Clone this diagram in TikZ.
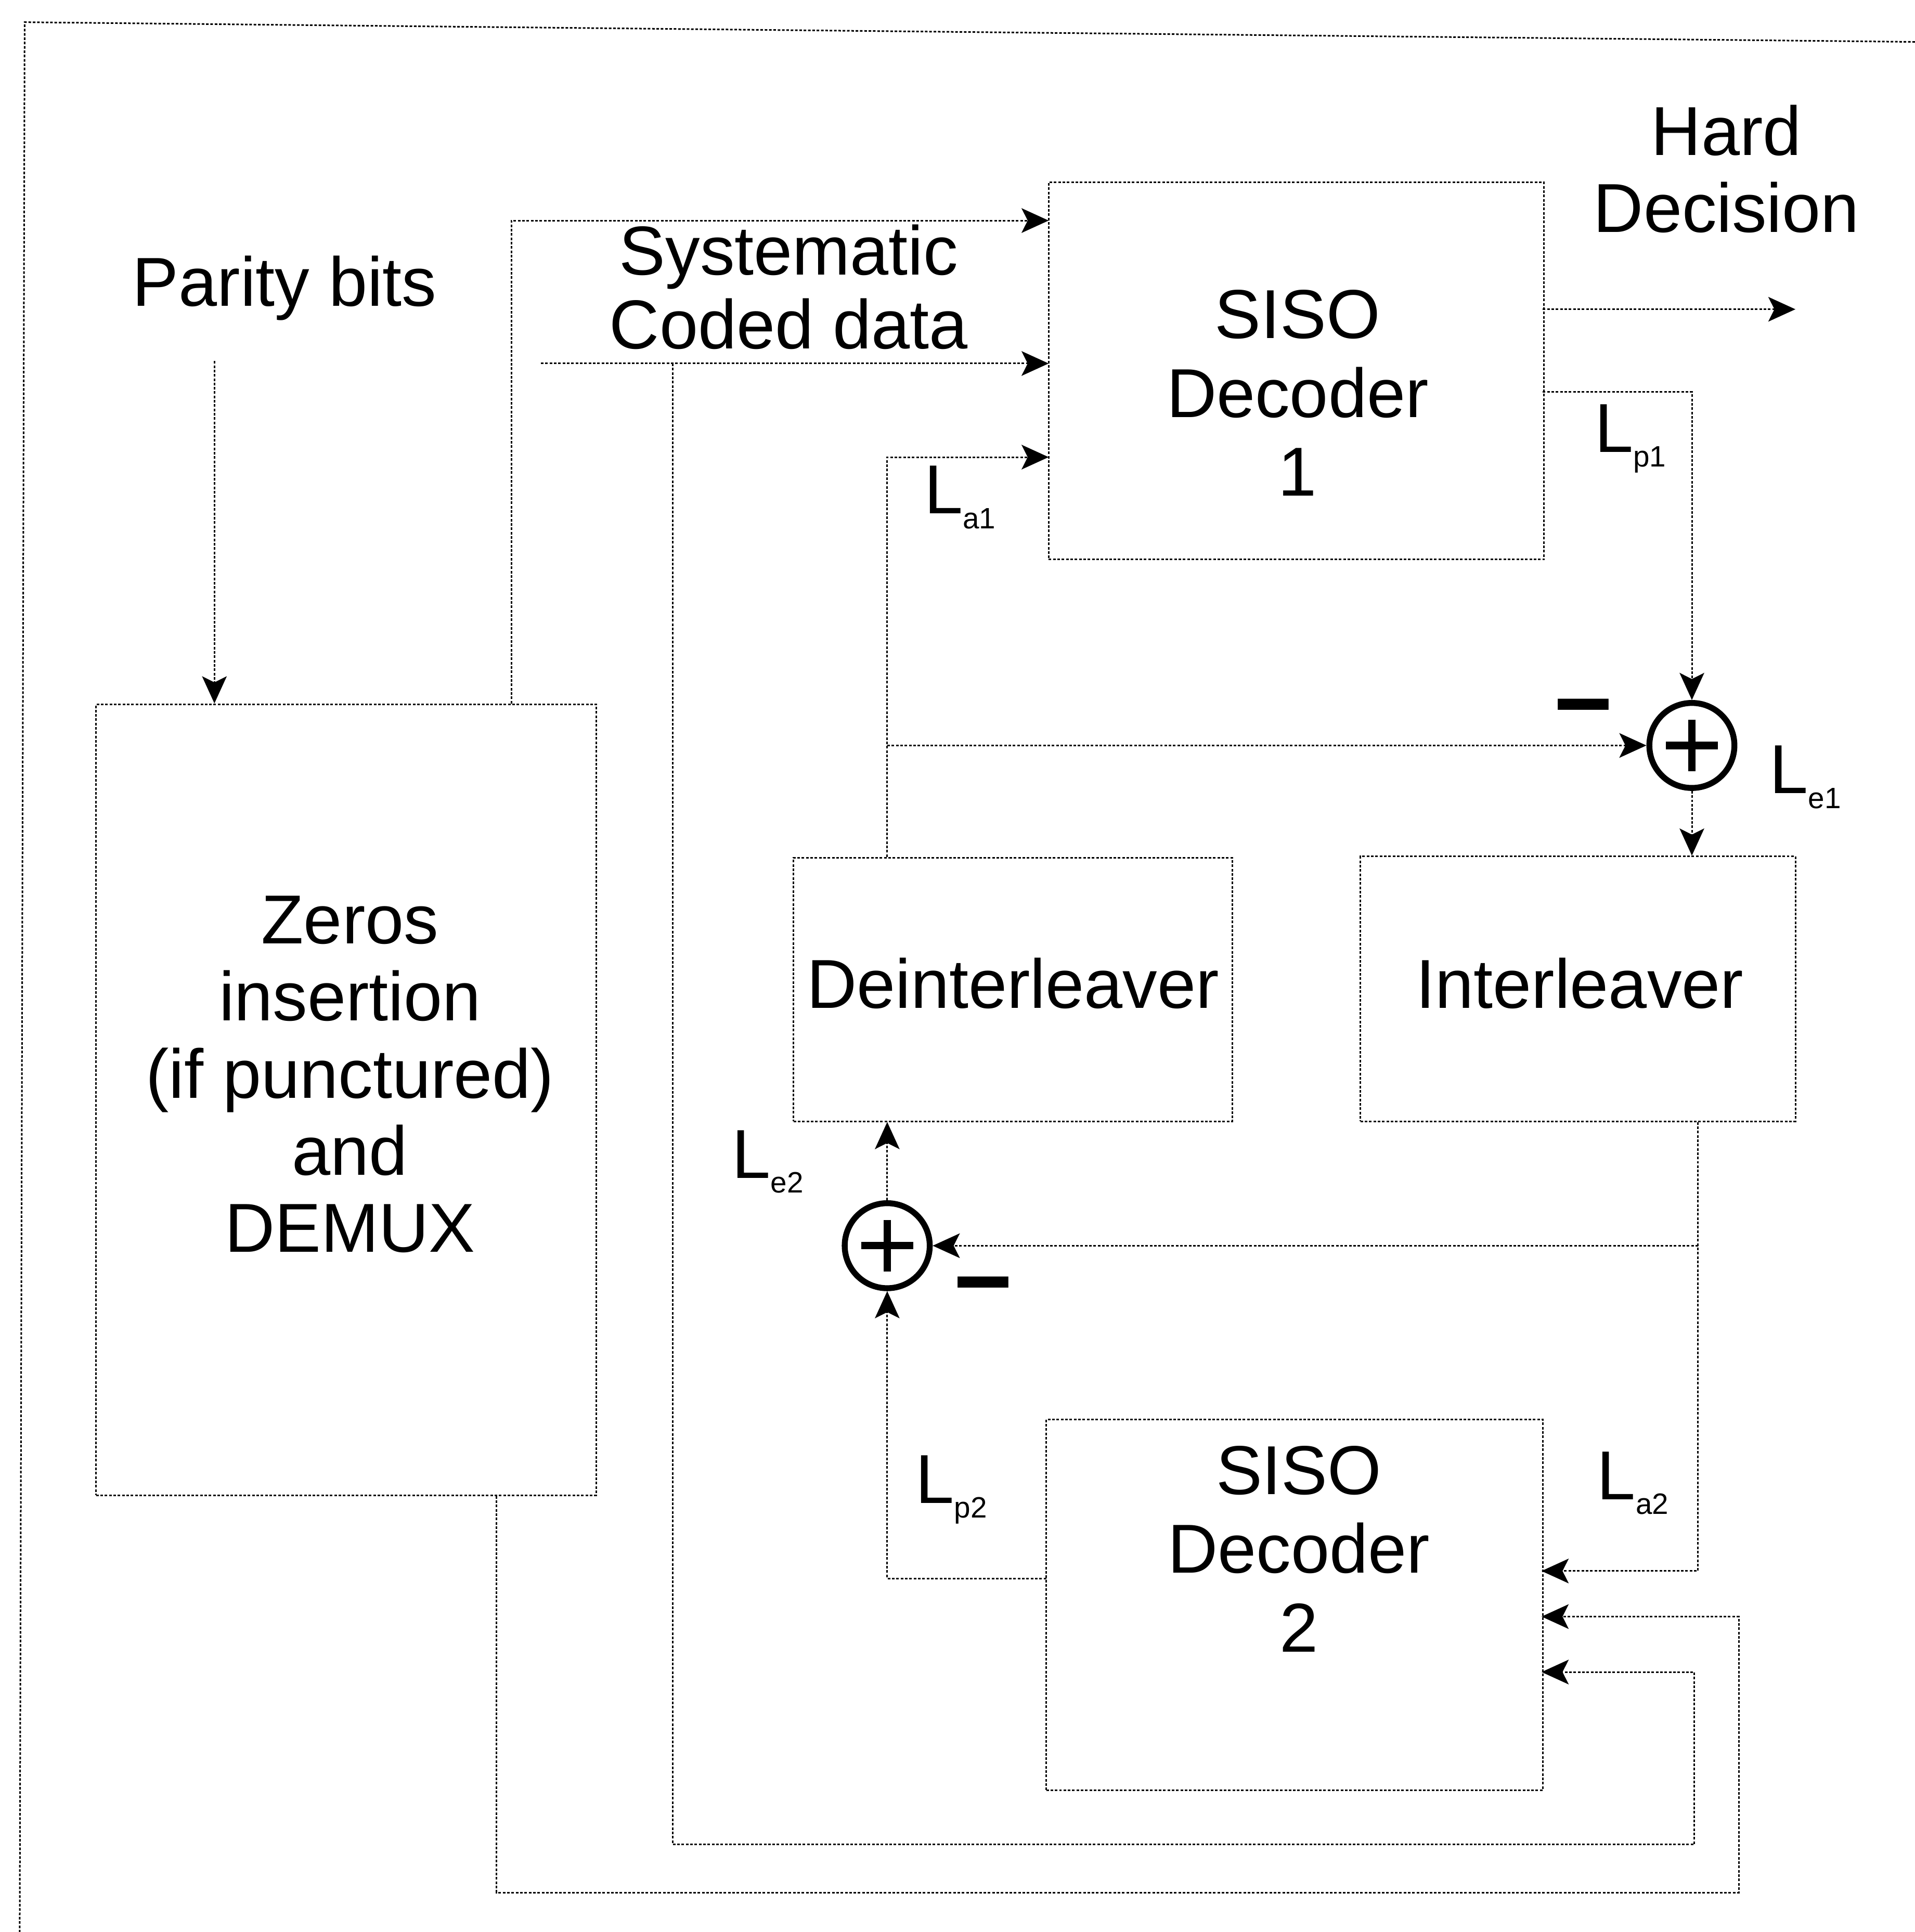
\documentclass[tikz,border=0pt]{standalone}
\usepackage{fontspec}
\setmainfont{Liberation Sans}
\usetikzlibrary{arrows.meta,calc}
\newcommand{\Lsub}[1]{L\raisebox{-6mm}{\fontsize{34}{36}\selectfont #1}}
\begin{document}
\begin{tikzpicture}[x=0.5mm,y=-0.5mm,
  conn/.style={line width=1.8pt, dash pattern=on 3pt off 2pt},
  box/.style={conn, draw, rectangle, inner sep=0pt},
  tip/.style={-{Stealth[length=11mm,width=10mm,inset=2.5mm]}},
  txt/.style={font=\fontsize{80}{90}\selectfont, align=center, inner sep=0pt},
  lab/.style={font=\fontsize{80}{90}\selectfont, inner sep=0pt, anchor=base west},
  sumnode/.style={circle, draw, line width=2.4mm, minimum size=34.5mm, inner sep=0pt},
  plusbar/.style={line width=3mm},
  minus/.style={font=\fontsize{117}{120}\selectfont\bfseries, inner sep=0pt}]
\useasboundingbox (0,0) rectangle (1554,1568);

% frame
\coordinate (fr1) at (1554,34);
\coordinate (fr2) at (20,18);
\coordinate (fr3) at (16,1568);
\draw[conn] (fr1) -- (fr2) -- (fr3);

% blocks
\node[box, minimum width=201mm, minimum height=153mm] (s1) at (1052,301) {};
\node[box, minimum width=203mm, minimum height=321mm] (z) at (281,892.5) {};
\node[box, minimum width=178mm, minimum height=107mm] (d) at (822,803) {};
\node[box, minimum width=176.5mm, minimum height=107.5mm] (i) at (1280.5,802.5) {};
\node[box, minimum width=201.5mm, minimum height=150.5mm] (s2) at (1050.5,1302.5) {};
\node[sumnode] (sum1) at (1373,605) {};
\node[sumnode] (sum2) at (720,1011) {};
\draw[plusbar] ($(sum1)+(-21,0)$) -- ($(sum1)+(21,0)$);
\draw[plusbar] ($(sum1)+(0,-21)$) -- ($(sum1)+(0,21)$);
\draw[plusbar] ($(sum2)+(-21,0)$) -- ($(sum2)+(21,0)$);
\draw[plusbar] ($(sum2)+(0,-21)$) -- ($(sum2)+(0,21)$);

% texts
\node[txt] (pbt) at (231,234) {Parity bits};
\node[txt, font=\fontsize{80}{85}\selectfont] (sct) at (640,233) {Systematic\\Coded data};
\node[txt, font=\fontsize{80}{91}\selectfont] (s1t) at (1053,319) {SISO\\Decoder\\1};
\node[txt, font=\fontsize{80}{89}\selectfont] (hdt) at (1401,137) {Hard\\Decision};
\node[txt, font=\fontsize{80}{89}\selectfont] (zt) at (284,872) {Zeros\\insertion\\(if punctured)\\and\\DEMUX};
\node[txt] (dt) at (822,798) {Deinterleaver};
\node[txt] (it) at (1282,798) {Interleaver};
\node[txt, font=\fontsize{80}{91}\selectfont] (s2t) at (1054,1257) {SISO\\Decoder\\2};

% labels
\node[lab] (la1) at (750,417) {\Lsub{a1}};
\node[lab] (lp1) at (1294,367) {\Lsub{p1}};
\node[lab] (le1) at (1436,644) {\Lsub{e1}};
\node[lab] (le2) at (594,956) {\Lsub{e2}};
\node[lab] (lp2) at (743,1220) {\Lsub{p2}};
\node[lab] (la2) at (1296,1217) {\Lsub{a2}};
\node[minus] (m1) at (1285,583) {−};
\node[minus] (m2) at (798,1052) {−};

% connector coordinates
\coordinate (pbtail) at (174,293);
\coordinate (zsx) at (415,0);
\coordinate (s1in1) at (851,179);
\coordinate (cdtail) at (439,295);
\coordinate (s1in2) at (851,295);
\coordinate (cdx) at (546,0);
\coordinate (s1in3) at (851,371);
\coordinate (s1out1) at (1252,251);
\coordinate (hdhead) at (1457,251);
\coordinate (s1out2) at (1252,318);
\coordinate (ibx) at (1378,0);
\coordinate (s2in1) at (1251,1275);
\coordinate (s2in2) at (1251,1312);
\coordinate (s2in3) at (1251,1357);
\coordinate (s2out) at (849,1281);
\coordinate (zbx) at (403,0);
\coordinate (c3) at (1375,1497);
\coordinate (c4) at (1411,1536);

% connectors
\draw[conn,tip] (pbtail) -- (z.north -| pbtail);
\draw[conn,tip] (z.north -| zsx) |- (s1in1);
\draw[conn,tip] (cdtail) -- (s1in2);
\draw[conn,tip] (cdtail -| cdx) |- (c3) |- (s2in3);
\draw[conn,tip] (z.south -| zbx) |- (c4) |- (s2in2);
\draw[conn,tip] (s1out1) -- (hdhead);
\draw[conn,tip] (s1out2) -| (sum1.north);
\draw[conn,tip] (sum1.south) -- (i.north -| sum1);
\draw[conn,tip] (d.north -| sum2) |- (s1in3);
\draw[conn,tip] (sum1 -| sum2) -- (sum1.west);
\draw[conn,tip] (i.south -| ibx) |- (s2in1);
\draw[conn,tip] (sum2 -| ibx) -- (sum2.east);
\draw[conn,tip] (s2out) -| (sum2.south);
\draw[conn,tip] (sum2.north) -- (d.south -| sum2);
\end{tikzpicture}
\end{document}
